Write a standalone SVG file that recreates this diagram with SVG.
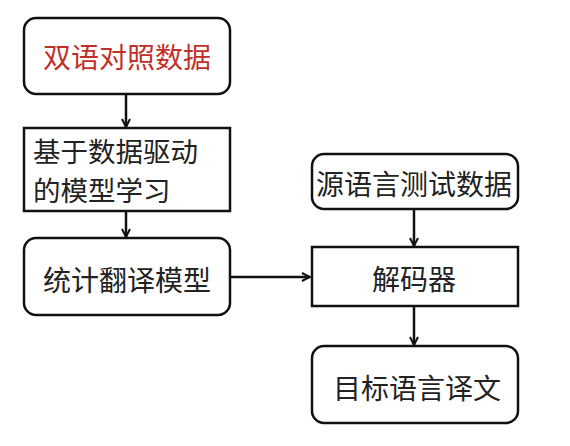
<svg xmlns="http://www.w3.org/2000/svg" width="570" height="446" viewBox="0 0 570 446">
<style>
.b{fill:#fff;stroke:#111;stroke-width:2.5}
.t{font-family:"Noto Sans CJK SC","Noto Sans",sans-serif;font-size:28px;fill:#222;dominant-baseline:central}
.c{stroke:#111;stroke-width:2.5;fill:none}
</style>
<defs>
<marker id="a" viewBox="0 0 10 10" refX="9" refY="5" markerWidth="10" markerHeight="10" markerUnits="userSpaceOnUse" orient="auto">
<path d="M1,1 L9,5 L1,9" fill="none" stroke="#111" stroke-width="2"/>
</marker>
</defs>
<rect width="570" height="446" fill="#fff"/>
<g id="connectors">
<line class="c" x1="126" y1="94" x2="126" y2="127" marker-end="url(#a)"/>
<line class="c" x1="126" y1="211" x2="126" y2="237" marker-end="url(#a)"/>
<line class="c" x1="230" y1="277" x2="310" y2="277" marker-end="url(#a)"/>
<line class="c" x1="414" y1="209" x2="414" y2="246" marker-end="url(#a)"/>
<line class="c" x1="414" y1="306" x2="414" y2="345" marker-end="url(#a)"/>
</g>
<g id="n1"><rect class="b" x="24" y="18" width="206" height="76" rx="12"/><text class="t" x="127" y="56" text-anchor="middle" style="fill:#c0302a">双语对照数据</text></g>
<g id="n2"><rect class="b" x="24" y="128" width="206" height="83"/><text class="t" x="33" y="150" style="font-size:27.5px">基于数据驱动</text><text class="t" x="33" y="189" style="font-size:27.5px">的模型学习</text></g>
<g id="n3"><rect class="b" x="24" y="238" width="206" height="77" rx="12"/><text class="t" x="127" y="279" text-anchor="middle">统计翻译模型</text></g>
<g id="n4"><rect class="b" x="312" y="154" width="206" height="55" rx="12"/><text class="t" x="414" y="183" text-anchor="middle">源语言测试数据</text></g>
<g id="n5"><rect class="b" x="312" y="247" width="206" height="59"/><text class="t" x="414" y="278" text-anchor="middle">解码器</text></g>
<g id="n6"><rect class="b" x="312" y="346" width="206" height="77" rx="12"/><text class="t" x="417" y="387" text-anchor="middle">目标语言译文</text></g>
</svg>
